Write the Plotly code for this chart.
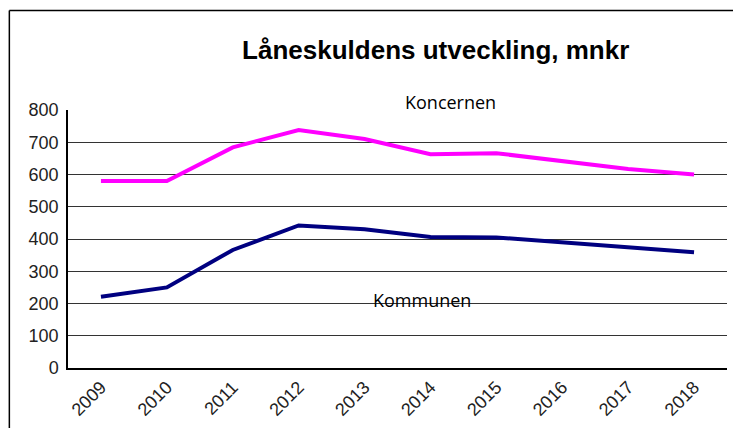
import plotly.graph_objects as go

years = ["2009", "2010", "2011", "2012", "2013", "2014", "2015", "2016", "2017", "2018"]
koncernen = [580, 580, 684, 738, 710, 663, 666, 640, 617, 600]
kommunen = [221, 250, 366, 442, 430, 406, 405, 390, 376, 359]
y_ticks = [0, 100, 200, 300, 400, 500, 600, 700, 800]

fig = go.Figure()
fig.add_trace(go.Scatter(x=years, y=koncernen, mode="lines", name="Koncernen",
                         line=dict(color="#FF00FF", width=4)))
fig.add_trace(go.Scatter(x=years, y=kommunen, mode="lines", name="Kommunen",
                         line=dict(color="#000080", width=4)))

# page has an 8px body margin, so the figure is sized 733x420
fig.update_layout(
    width=733,
    height=420,
    margin=dict(l=60, r=14, t=102, b=60, autoexpand=False),
    paper_bgcolor="white",
    plot_bgcolor="white",
    showlegend=False,
    font=dict(family="Liberation Sans, Arial", size=18, color="#222222"),
    title=dict(text="<b>Låneskuldens utveckling, mnkr</b>", x=0.558, xref="paper",
               xanchor="center", y=0.9, yanchor="middle",
               font=dict(size=26, color="black")),
)
fig.update_xaxes(type="category", range=[-0.5, 9.5], tickangle=-45, showgrid=False,
                 showline=True, linecolor="black", linewidth=1.5, ticks="",
                 automargin=False, fixedrange=True)
fig.update_yaxes(range=[0, 800], tickvals=y_ticks, showgrid=True, gridcolor="#333333",
                 gridwidth=1, showline=True, linecolor="black", linewidth=1.5,
                 ticks="", ticklabelstandoff=4, zeroline=False, automargin=False,
                 fixedrange=True)

fig.add_annotation(text="Koncernen", x=0.58, y=1.031, xref="paper", yref="paper",
                   xanchor="center", yanchor="middle", showarrow=False,
                   font=dict(size=18, color="black", family="Open Sans, Liberation Sans"))
fig.add_annotation(text="Kommunen", x=0.537, y=0.264, xref="paper", yref="paper",
                   xanchor="center", yanchor="middle", showarrow=False,
                   font=dict(size=18, color="black", family="Open Sans, Liberation Sans"))

# outer frame: left and top border
fig.add_shape(type="line", xref="paper", yref="paper", x0=-0.089, x1=1.03, y0=1.386, y1=1.386,
              line=dict(color="black", width=1.5))
fig.add_shape(type="line", xref="paper", yref="paper", x0=-0.089, x1=-0.089, y0=1.386, y1=-0.3,
              line=dict(color="black", width=1.5))

fig.write_html("out.html")
